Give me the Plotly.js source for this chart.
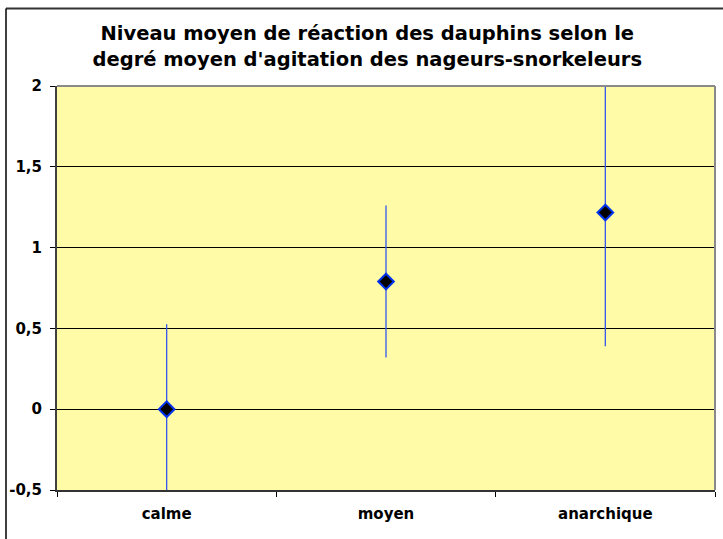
<!DOCTYPE html>
<html>
<head>
<meta charset="utf-8">
<script src="https://cdn.plot.ly/plotly-3.0.1.min.js"></script>
<style>
html,body{margin:0;padding:0;background:#fff;}
#chart{width:723px;height:539px;}
</style>
</head>
<body>
<div id="chart"></div>
<script>
const categories = ['calme', 'moyen', 'anarchique'];
const means = [0, 0.79, 1.217];
const errors = [0.526, 0.47, 0.827];
const yTickVals = [-0.5, 0, 0.5, 1, 1.5, 2];
const yTickText = ['-0,5', '0', '0,5', '1', '1,5', '2'];
const titleText = "Niveau moyen de réaction des dauphins selon le<br>degré moyen d'agitation des nageurs-snorkeleurs";

const trace = {
  type: 'scatter',
  mode: 'markers',
  x: categories,
  y: means,
  cliponaxis: false,
  marker: {symbol: 'diamond', size: 12, color: '#000000', line: {color: '#0033EE', width: 2}},
  error_y: {type: 'data', array: errors, symmetric: true, visible: true, color: '#3355EE', thickness: 1.3, width: 0},
  hoverinfo: 'none',
  showlegend: false
};

const font = '"DejaVu Sans", Verdana, sans-serif';

const layout = {
  width: 723,
  height: 539,
  margin: {l: 57, r: 8, t: 86, b: 49, pad: 0},
  paper_bgcolor: '#FFFFFF',
  plot_bgcolor: '#FFFBA6',
  font: {family: font, color: '#000000'},
  title: {
    text: '<b>' + titleText + '</b>',
    font: {family: font, size: 19.5, color: '#000000'},
    x: 0.508, xanchor: 'center', xref: 'container',
    y: 0.925, yanchor: 'top', yref: 'container'
  },
  xaxis: {
    type: 'category',
    range: [-0.5, 2.5],
    tickson: 'boundaries',
    ticks: 'outside', ticklen: 5, tickwidth: 1, tickcolor: '#000000',
    showgrid: false, zeroline: false,
    showline: true, linecolor: '#333333', linewidth: 1.5,
    tickfont: {family: font, size: 15, color: '#000000', weight: 'bold'},
    ticklabelstandoff: 9,
    fixedrange: true
  },
  yaxis: {
    range: [-0.5, 2],
    tickvals: yTickVals,
    ticktext: yTickText,
    ticks: 'outside', ticklen: 5, tickwidth: 1, tickcolor: '#000000',
    showgrid: true, gridcolor: '#000000', gridwidth: 1,
    zeroline: false,
    showline: true, linecolor: '#404040', linewidth: 2,
    tickfont: {family: font, size: 15, color: '#000000', weight: 'bold'},
    ticklabelstandoff: 5,
    fixedrange: true
  },
  shapes: [
    {type: 'line', xref: 'paper', yref: 'paper', x0: 0, x1: 1, y0: 1, y1: 1, line: {color: '#8A8A8A', width: 2}},
    {type: 'line', xref: 'paper', yref: 'paper', x0: 1, x1: 1, y0: 0, y1: 1, line: {color: '#8A8A8A', width: 2}},
    {type: 'line', xref: 'paper', yref: 'paper', x0: -0.0775, x1: 1.02, y0: 1.1918, y1: 1.1918, line: {color: '#333333', width: 2}},
    {type: 'line', xref: 'paper', yref: 'paper', x0: -0.0775, x1: -0.0775, y0: 1.1918, y1: -0.14, line: {color: '#000000', width: 1.5}}
  ]
};

Plotly.newPlot('chart', [trace], layout, {displayModeBar: false, staticPlot: true});
</script>
</body>
</html>
